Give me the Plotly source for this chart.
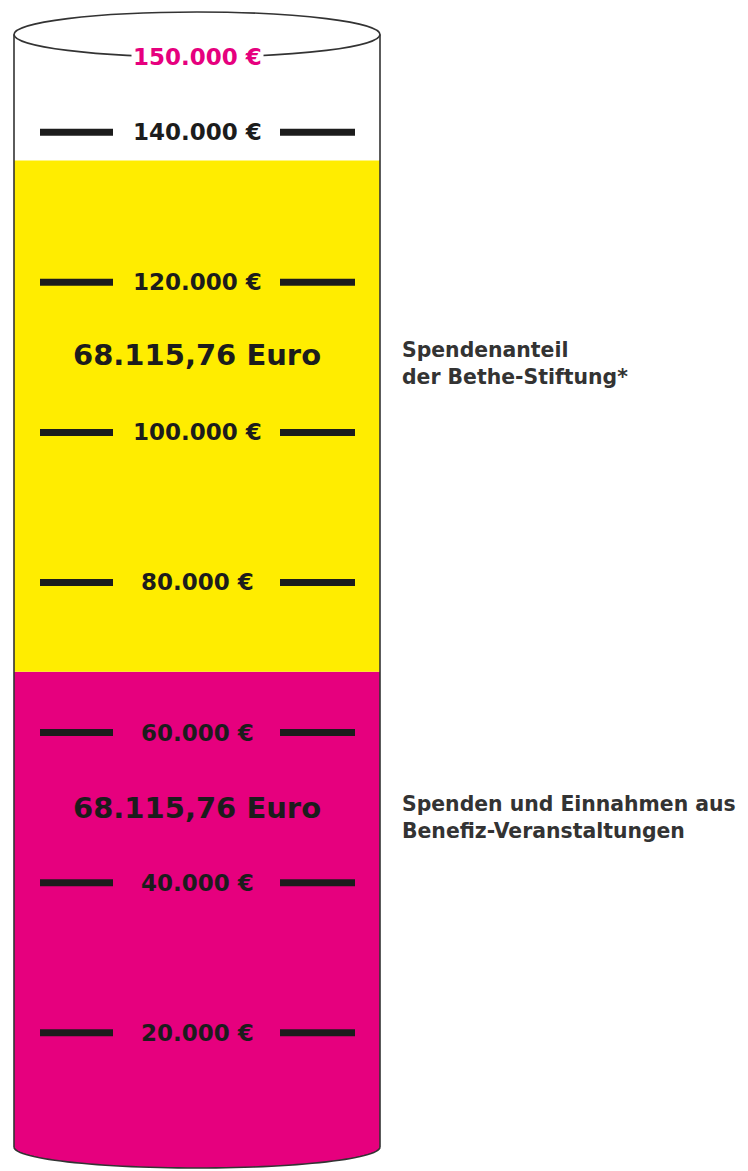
import math
import plotly.graph_objects as go

# ---------------- data ----------------
segment_names = ["Spenden und Einnahmen aus<br>Benefiz-Veranstaltungen",
                 "Spendenanteil<br>der Bethe-Stiftung*"]
segment_values = [68115.76, 68115.76]
segment_value_labels = ["68.115,76 Euro", "68.115,76 Euro"]
segment_colors = ["#E6007E", "#FFED00"]

tick_values = [20000, 40000, 60000, 80000, 100000, 120000, 140000]
tick_labels = ["20.000 €", "40.000 €", "60.000 €", "80.000 €",
               "100.000 €", "120.000 €", "140.000 €"]
goal_value = 150000
goal_label = "150.000 €"

# ---------------- layout geometry (pixels, page frame) ----------------
PAGE_W, PAGE_H = 748, 1171
OFF = 8                       # default body margin of the html page
W, H = PAGE_W - OFF, PAGE_H - OFF
PX_PER_EURO = 0.007504
ZERO_PX = 1182.8
y_top = (ZERO_PX - OFF) / PX_PER_EURO
y_bottom = (ZERO_PX - PAGE_H) / PX_PER_EURO

CX = 197          # cylinder centre x
CW = 366          # cylinder width
LEFT, RIGHT = CX - CW / 2, CX + CW / 2
TOP_CY, TOP_RY = 34.5, 22.5
BOT_CY, BOT_RY = 1147, 21

FONT = "DejaVu Sans"
DARK = "#1c1c1c"
OUTLINE = "#333333"


def xp(px):
    return (px - OFF) / W


def yp(py):
    return 1 - (py - OFF) / H


fig = go.Figure()

# stacked fill of the cylinder
base = 0
for name, val, col in zip(segment_names, segment_values, segment_colors):
    fig.add_trace(go.Bar(x=[CX], y=[val], base=[base], width=[CW],
                         marker=dict(color=col, line=dict(width=0)),
                         name=name.replace("<br>", " "), showlegend=False,
                         hoverinfo="skip"))
    base += val

shapes = []

# white mask below bottom arc
pts = []
n = 60
for i in range(n + 1):
    t = math.pi - math.pi * i / n
    x = CX + (CW / 2) * math.cos(t)
    y = BOT_CY + BOT_RY * math.sin(t)
    pts.append((x, y))
path = f"M {xp(LEFT-4)},{yp(BOT_CY)} " + " ".join(f"L {xp(x)},{yp(y)}" for x, y in pts)
path += (f" L {xp(RIGHT+4)},{yp(BOT_CY)} L {xp(RIGHT+4)},{yp(PAGE_H+10)}"
         f" L {xp(LEFT-4)},{yp(PAGE_H+10)} Z")
shapes.append(dict(type="path", xref="paper", yref="paper", path=path,
                   fillcolor="white", line=dict(width=0), layer="above"))

# bottom arc outline
arc = f"M {xp(pts[0][0])},{yp(pts[0][1])} " + " ".join(f"L {xp(x)},{yp(y)}" for x, y in pts[1:])
shapes.append(dict(type="path", xref="paper", yref="paper", path=arc,
                   line=dict(color=OUTLINE, width=1.6), layer="above"))

# sides
for sx in (LEFT, RIGHT):
    shapes.append(dict(type="line", xref="paper", yref="paper",
                       x0=xp(sx), x1=xp(sx), y0=yp(TOP_CY), y1=yp(BOT_CY),
                       line=dict(color=OUTLINE, width=1.6), layer="above"))

# top ellipse
shapes.append(dict(type="circle", xref="paper", yref="paper",
                   x0=xp(LEFT), x1=xp(RIGHT),
                   y0=yp(TOP_CY + TOP_RY), y1=yp(TOP_CY - TOP_RY),
                   line=dict(color=OUTLINE, width=1.6), layer="above"))

# tick dashes
for tv in tick_values:
    for x0, x1 in ((40, 113), (280, 355)):
        shapes.append(dict(type="line", xref="x", yref="y",
                           x0=x0, x1=x1, y0=tv, y1=tv,
                           line=dict(color=DARK, width=7), layer="above"))

annotations = []
for tv, tl in zip(tick_values, tick_labels):
    annotations.append(dict(x=CX, y=tv, xref="x", yref="y", text=f"<b>{tl}</b>",
                            showarrow=False, xanchor="center", yanchor="middle",
                            font=dict(family=FONT, size=23, color=DARK)))

annotations.append(dict(x=CX, y=goal_value, xref="x", yref="y", text=f"<b>{goal_label}</b>",
                        showarrow=False, xanchor="center", yanchor="middle",
                        bgcolor="white", borderpad=1,
                        font=dict(family=FONT, size=23, color="#E6007E")))

# value labels & side labels
value_label_y = [50000, 110300]
side_label_y = [48700, 109200]
for vy, sy, vl, nm in zip(value_label_y, side_label_y, segment_value_labels, segment_names):
    annotations.append(dict(x=CX, y=vy, xref="x", yref="y", text=f"<b>{vl}</b>",
                            showarrow=False, xanchor="center", yanchor="middle",
                            font=dict(family=FONT, size=29, color=DARK)))
    annotations.append(dict(x=400, y=sy, xref="x", yref="y", text=f"<b>{nm}</b>",
                            showarrow=False, xanchor="left", yanchor="middle", align="left",
                            font=dict(family=FONT, size=20.4, color=OUTLINE)))

fig.update_layout(
    width=W, height=H,
    margin=dict(l=0, r=0, t=0, b=0, pad=0),
    paper_bgcolor="white", plot_bgcolor="white",
    xaxis=dict(range=[OFF, PAGE_W], visible=False, fixedrange=True),
    yaxis=dict(range=[y_bottom, y_top], visible=False, fixedrange=True),
    barmode="overlay",
    shapes=shapes, annotations=annotations,
    showlegend=False,
)

fig.write_html("out.html")
